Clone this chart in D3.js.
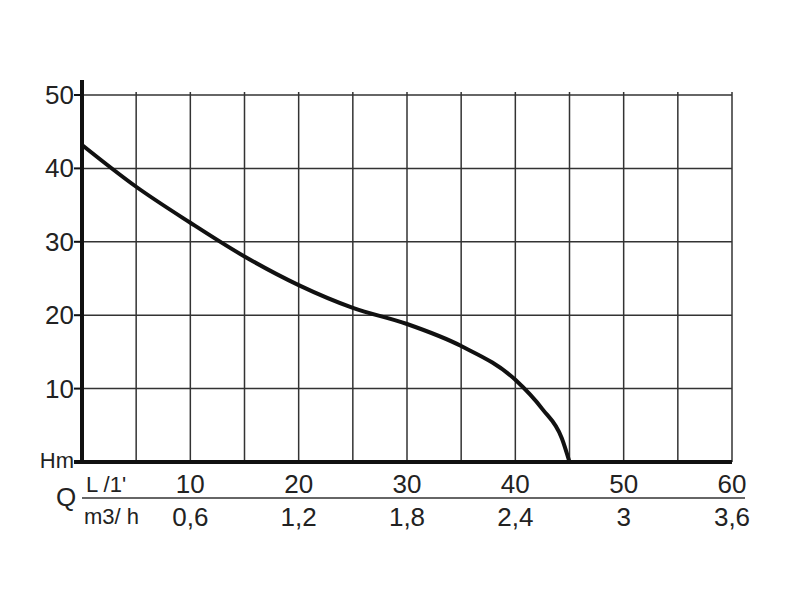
<!DOCTYPE html>
<html><head><meta charset="utf-8">
<script src="https://cdn.jsdelivr.net/npm/d3@7"></script>
<style>body{margin:0;background:#fff}text{font-family:"Liberation Sans",Arial,sans-serif;fill:#222}</style>
</head><body><svg width="800" height="600"></svg>
<script>
const flowLmin=[0,5,10,15,20,25,30,35,40,42.5,44.3,45];
const headM=[43.2,37.5,32.6,28,24.1,21,18.8,15.8,11.2,7.2,3.2,0];
const xTicksL=[10,20,30,40,50,60];
const xTicksM=["0,6","1,2","1,8","2,4","3","3,6"];
const yTicks=[10,20,30,40,50];
const svg=d3.select("svg");
const x=d3.scaleLinear().domain([0,60]).range([82,732]);
const y=d3.scaleLinear().domain([0,50]).range([462,95]);
const g=svg.append("g");
d3.range(5,61,5).forEach(v=>g.append("line").attr("x1",x(v)).attr("x2",x(v)).attr("y1",y(50)-3).attr("y2",y(0)).attr("stroke","#333").attr("stroke-width",1.5));
yTicks.forEach(v=>g.append("line").attr("x1",x(0)).attr("x2",x(60)).attr("y1",y(v)).attr("y2",y(v)).attr("stroke","#333").attr("stroke-width",1.5));
g.append("line").attr("x1",x(0)).attr("x2",x(0)).attr("y1",80).attr("y2",y(0)).attr("stroke","#111").attr("stroke-width",4);
g.append("line").attr("x1",x(0)-8).attr("x2",x(60)).attr("y1",y(0)).attr("y2",y(0)).attr("stroke","#111").attr("stroke-width",4);
yTicks.forEach(v=>{g.append("line").attr("x1",x(0)-8).attr("x2",x(0)).attr("y1",y(v)).attr("y2",y(v)).attr("stroke","#111").attr("stroke-width",2);
 g.append("text").attr("x",74).attr("y",y(v)+9).attr("text-anchor","end").attr("font-size",26).text(v);});
g.append("text").attr("x",74).attr("y",y(0)+6).attr("text-anchor","end").attr("font-size",22).text("Hm");
xTicksL.forEach((v,i)=>{g.append("text").attr("x",x(v)).attr("y",493).attr("text-anchor","middle").attr("font-size",26).text(v);
 g.append("text").attr("x",x(v)).attr("y",526).attr("text-anchor","middle").attr("font-size",26).text(xTicksM[i]);});
g.append("line").attr("x1",82).attr("x2",745).attr("y1",498).attr("y2",498).attr("stroke","#333").attr("stroke-width",1.5);
g.append("text").attr("x",86).attr("y",492).attr("font-size",22).text("L /1'");
g.append("text").attr("x",84).attr("y",524).attr("font-size",22).text("m3/ h");
g.append("text").attr("x",56).attr("y",506).attr("font-size",26).text("Q");
g.append("path").datum(flowLmin.map((f,i)=>[f,headM[i]])).attr("fill","none").attr("stroke","#111").attr("stroke-width",4)
 .attr("d",d3.line().x(d=>x(d[0])).y(d=>y(d[1])).curve(d3.curveMonotoneX));
</script></body></html>
